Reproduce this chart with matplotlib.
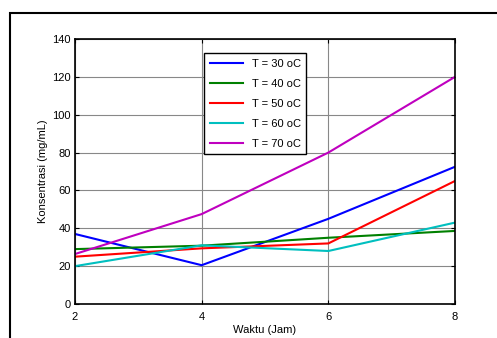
import matplotlib.pyplot as plt
from matplotlib.patches import Rectangle

plt.rcParams['font.family'] = ['Liberation Sans', 'DejaVu Sans']

waktu = [2, 4, 6, 8]
t30 = [37, 20.5, 45, 72.5]
t40 = [29, 30.8, 35, 38.6]
t50 = [25, 29.4, 32, 65]
t60 = [20, 31, 28, 43]
t70 = [26.4, 47.5, 80, 120]

series = [
    (t30, 'T = 30 oC', '#0000ff'),
    (t40, 'T = 40 oC', '#008000'),
    (t50, 'T = 50 oC', '#ff0000'),
    (t60, 'T = 60 oC', '#00bfbf'),
    (t70, 'T = 70 oC', '#bf00bf'),
]

fig = plt.figure(figsize=(4.97, 3.38), dpi=100)
ax = fig.add_axes([75 / 497, 1 - 304 / 338, 380 / 497, 265 / 338])

for vals, label, color in series:
    ax.plot(waktu, vals, color=color, linewidth=1.5, label=label)

ax.set_xlim(2, 8)
ax.set_ylim(0, 140)
ax.set_xticks([2, 4, 6, 8])
ax.set_yticks(range(0, 141, 20))
ax.grid(True, color='#888888', linewidth=0.8)
ax.tick_params(direction='in', top=True, right=True, labelsize=8, length=3, pad=3)
ax.tick_params(axis='x', pad=6)
for s in ax.spines.values():
    s.set_linewidth(1.2)
ax.set_xlabel('Waktu (Jam)', fontsize=8, labelpad=2)
ax.set_ylabel('Konsentrasi (mg/mL)', fontsize=8, labelpad=3)

leg = ax.legend(loc='upper left', bbox_to_anchor=(129 / 380, 1 - 14 / 265),
                fontsize=8, frameon=True, fancybox=False, framealpha=1,
                edgecolor='black', handlelength=3, borderpad=0.5,
                labelspacing=0.9, borderaxespad=0)
leg.get_frame().set_linewidth(1.0)

fig.patches.append(Rectangle((10 / 497, -0.1), 1.2, 1.1 - 13 / 338,
                             transform=fig.transFigure, fill=False,
                             edgecolor='black', linewidth=1.5))

fig.savefig('out.png', dpi=100)
